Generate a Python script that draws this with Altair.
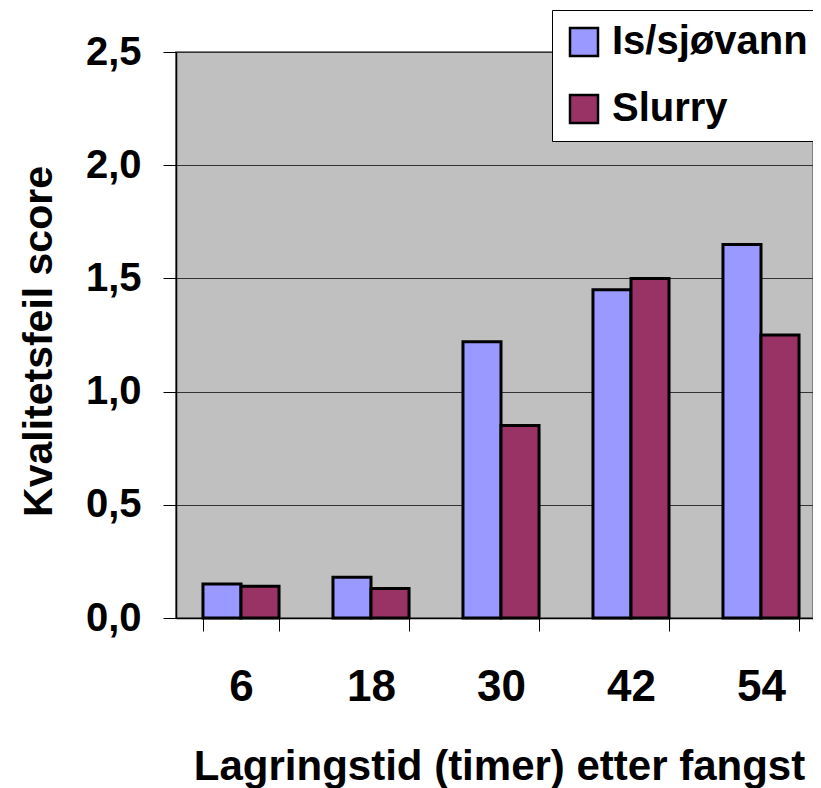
import altair as alt
import pandas as pd

categories = ["6", "18", "30", "42", "54"]
series = ["Is/sjøvann", "Slurry"]
is_sjovann = [0.15, 0.18, 1.22, 1.45, 1.65]
slurry = [0.14, 0.13, 0.85, 1.50, 1.25]
y_ticks = [0, 0.5, 1.0, 1.5, 2.0, 2.5]
colors = ["#9999FF", "#993366"]

rows = []
for c, a, b in zip(categories, is_sjovann, slurry):
    rows.append({"time": c, "series": series[0], "value": a})
    rows.append({"time": c, "series": series[1], "value": b})
df = pd.DataFrame(rows)

FONT = "Liberation Sans"

chart = alt.Chart(df).mark_bar(stroke="black", strokeWidth=3).encode(
    x=alt.X(
        "time:N",
        sort=categories,
        scale=alt.Scale(range=[0, 650], paddingInner=0.415, paddingOuter=0.2075),
        axis=alt.Axis(
            title="Lagringstid (timer) etter fangst",
            tickBand="extent",
            labelAngle=0,
            labelFont=FONT,
            labelFontSize=44,
            labelFontWeight="bold",
            labelColor="black",
            labelBaseline="alphabetic",
            labelPadding=69,
            tickSize=13,
            tickColor="black",
            tickWidth=1,
            domainColor="black",
            domainWidth=1.5,
            grid=False,
            titleFont=FONT,
            titleFontSize=42,
            titleFontWeight="bold",
            titleColor="black",
            titleBaseline="alphabetic",
            titleAlign="center",
            titleX=323,
            titleY=161,
        ),
    ),
    xOffset=alt.XOffset(
        "series:N", sort=series, scale=alt.Scale(paddingInner=0, paddingOuter=0)
    ),
    y=alt.Y(
        "value:Q",
        scale=alt.Scale(domain=[0, 2.5], nice=False, zero=True),
        axis=alt.Axis(
            title="Kvalitetsfeil score",
            values=y_ticks,
            labelExpr="replace(format(datum.value, '.1f'), '.', ',')",
            labelFont=FONT,
            labelFontSize=40,
            labelFontWeight="bold",
            labelColor="black",
            labelPadding=22,
            tickSize=13,
            tickColor="black",
            tickWidth=1,
            domainColor="black",
            domainWidth=1.5,
            grid=True,
            gridColor="#333333",
            gridWidth=1,
            titleFont=FONT,
            titleFontSize=41,
            titleFontWeight="bold",
            titleColor="black",
            titleAngle=270,
            titleBaseline="alphabetic",
            titleAlign="center",
            titleX=-125,
            titleY=289,
        ),
    ),
    color=alt.Color(
        "series:N",
        sort=series,
        scale=alt.Scale(domain=series, range=colors),
        legend=alt.Legend(
            title=None,
            orient="none",
            legendX=376,
            legendY=-42,
            padding=12,
            fillColor="white",
            strokeColor="black",
            cornerRadius=0,
            symbolType="square",
            symbolSize=784,
            symbolStrokeColor="black",
            symbolStrokeWidth=2.5,
            symbolOpacity=1,
            labelFont=FONT,
            labelFontSize=40,
            labelFontWeight="bold",
            labelColor="black",
            labelOffset=8,
            labelLimit=500,
            labelExpr="datum.label + '      '",
            rowPadding=27,
        ),
    ),
).properties(
    width=637,
    height=566,
    background="white",
    autosize=alt.AutoSizeParams(type="none"),
    padding={"left": 168, "top": 44, "right": 0, "bottom": 170},
).configure_view(
    fill="#C0C0C0",
    stroke="#808080",
    strokeWidth=2,
).configure_legend(
    strokeWidth=1,
)

chart.save("out.html", embed_options={"renderer": "svg", "actions": False})
